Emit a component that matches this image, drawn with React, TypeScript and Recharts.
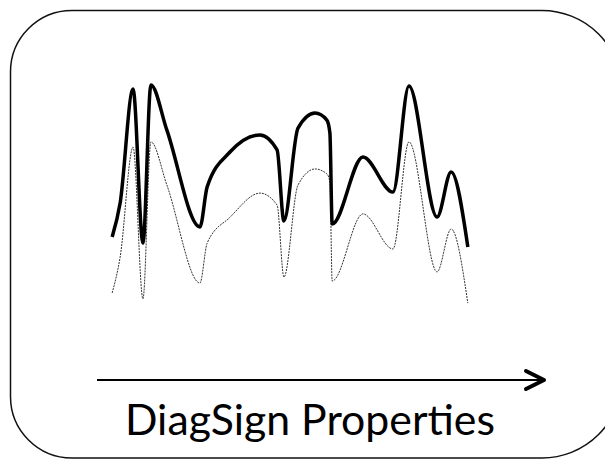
import React from "react";
import { LineChart, Line, XAxis, YAxis } from "recharts";

const positions = [3.2, 5.3, 8.7, 11.3, 13.4, 17.6, 26.3, 28.2, 34.2, 42.1, 46.6, 48.4, 52.1, 56.6, 59.7, 60.5, 61.1, 69.2, 77.1, 81.3, 88.7, 92.4, 96.8];
const upperSignal = [31.9, 45, 88.8, 29.6, 90.4, 73, 35.8, 51.2, 64.6, 71.2, 65.4, 38.1, 73.8, 79.6, 76.9, 71.9, 36.9, 62.7, 49.2, 90, 39.6, 56.9, 28.1];
const lowerSignal = [10.4, 24.2, 66.5, 8.1, 68.5, 51.9, 14.2, 29.6, 39.5, 48.8, 44.2, 16.5, 51.9, 58.1, 56.2, 53.1, 15, 40.8, 27.3, 68.5, 18.5, 35, 6.5];
const axisLabel = "DiagSign Properties";

const data = positions.map((x, i) => ({ x, upper: upperSignal[i], lower: lowerSignal[i] }));

export default function App() {
  return (
    <div style={{ position: "fixed", left: 0, top: 0, width: 605, height: 459, overflow: "hidden", background: "#fff" }}>
      <svg width={605} height={459} style={{ position: "absolute", left: 0, top: 0 }}>
        <path
          d="M 72 10.5 H 542 A 80 80 0 0 1 622 90.5 V 378 A 80 80 0 0 1 542 458 H 72 A 61.5 61.5 0 0 1 10.5 396.5 V 72 A 61.5 61.5 0 0 1 72 10.5 Z"
          fill="none"
          stroke="#111"
          strokeWidth={1.5}
        />
      </svg>
      <div style={{ position: "absolute", left: 0, top: 0 }}>
        <LineChart width={605} height={459} data={data} margin={{ left: 100, right: 125, top: 60, bottom: 139 }}>
          <XAxis dataKey="x" type="number" domain={[0, 100]} hide />
          <YAxis type="number" domain={[0, 100]} hide />
          <Line dataKey="lower" type="monotone" stroke="#333" strokeWidth={1} strokeDasharray="2 1" dot={false} isAnimationActive={false} />
          <Line dataKey="upper" type="monotone" stroke="#000" strokeWidth={3.5} dot={false} isAnimationActive={false} />
        </LineChart>
      </div>
      <svg width={605} height={459} style={{ position: "absolute", left: 0, top: 0 }}>
        <line x1={97} y1={380} x2={543} y2={380} stroke="#000" strokeWidth={2} />
        <polyline points="526,371 544,380 526,389" fill="none" stroke="#000" strokeWidth={4} strokeLinecap="round" strokeLinejoin="round" />
        <text x={125} y={435} fontFamily="Lato, 'Open Sans', sans-serif" fontSize={42} fill="#000" textLength={370} lengthAdjust="spacingAndGlyphs">
          {axisLabel}
        </text>
      </svg>
    </div>
  );
}
